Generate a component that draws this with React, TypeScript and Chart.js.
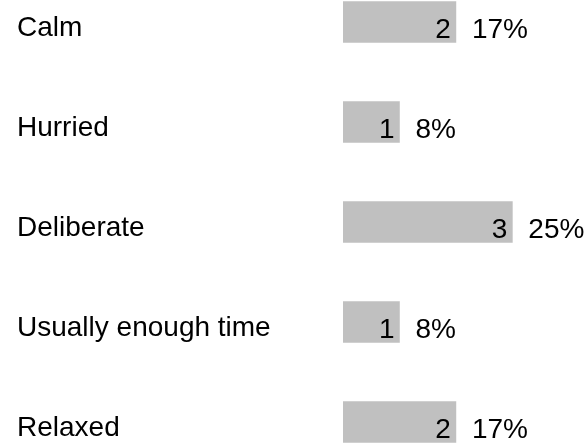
import React, { useEffect, useRef } from "react";
import { Chart, registerables } from "chart.js";

Chart.register(...registerables);

const categories = ["Calm", "Hurried", "Deliberate", "Usually enough time", "Relaxed"];
const counts = [2, 1, 3, 1, 2];
const percentLabels = ["17%", "8%", "25%", "8%", "17%"];

const FONT = '"Liberation Sans", Arial, Helvetica, sans-serif';

const labelPlugin = {
  id: "rowLabels",
  afterDatasetsDraw(chart: any) {
    const ctx = chart.ctx;
    const meta = chart.getDatasetMeta(0);
    const yScale = chart.scales.y;
    ctx.save();
    ctx.font = `28px ${FONT}`;
    ctx.fillStyle = "#000";
    ctx.textBaseline = "alphabetic";
    categories.forEach((cat, i) => {
      const yc = yScale.getPixelForValue(i);
      ctx.textAlign = "left";
      ctx.fillText(cat, 17, yc + 14);
      const bar = meta.data[i];
      const xEnd = bar.x;
      ctx.textAlign = "right";
      ctx.fillText(String(counts[i]), xEnd - 5, yc + 16);
      ctx.textAlign = "left";
      ctx.fillText(percentLabels[i], xEnd + 16, yc + 16);
    });
    ctx.restore();
  },
};

export default function App() {
  const ref = useRef<HTMLCanvasElement>(null);
  useEffect(() => {
    if (!ref.current) return;
    const chart = new Chart(ref.current, {
      type: "bar",
      data: {
        labels: categories,
        datasets: [
          {
            data: counts,
            backgroundColor: "#c0c0c0",
            borderWidth: 0,
            barThickness: 41,
          },
        ],
      },
      options: {
        indexAxis: "y",
        animation: false,
        responsive: false,
        maintainAspectRatio: false,
        layout: { padding: { left: 343, right: 0, top: 0, bottom: 0 } },
        plugins: { legend: { display: false }, tooltip: { enabled: false } },
        scales: {
          x: { display: false, min: 0, max: 4.34, grid: { display: false } },
          y: { display: false, grid: { display: false } },
        },
      },
      plugins: [labelPlugin],
    });
    return () => chart.destroy();
  }, []);
  return (
    <div style={{ position: "fixed", left: 0, top: 0, width: 588, height: 445, overflow: "hidden", background: "#fff" }}>
      <div style={{ position: "absolute", left: 0, top: -28, width: 588, height: 500 }}>
        <canvas ref={ref} width={588} height={500} style={{ display: "block" }} />
      </div>
    </div>
  );
}
